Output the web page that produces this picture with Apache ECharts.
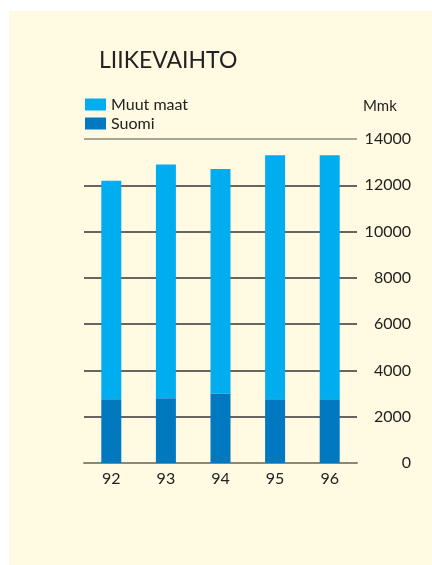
<!DOCTYPE html>
<html>
<head>
<meta charset="utf-8">
<script src="https://cdn.jsdelivr.net/npm/echarts@6/dist/echarts.min.js"></script>
<style>
  html, body { margin: 0; padding: 0; background: #fff; }
  #chart { width: 432px; height: 565px; }
</style>
</head>
<body>
<div id="chart"></div>
<script>
const years = ['92', '93', '94', '95', '96']
const suomi = [2750, 2800, 3000, 2750, 2750]
const muutMaat = [9450, 10100, 9700, 10550, 10550]

const chart = echarts.init(document.getElementById('chart'))

const option = {
  backgroundColor: '#ffffff',
  textStyle: { fontFamily: 'Lato' },
  graphic: [
    {
      type: 'rect',
      z: -10,
      shape: { x: 9, y: 11, width: 423, height: 554 },
      style: { fill: '#fffae1' },
    },
    {
      type: 'text',
      left: 363,
      top: 99,
      style: { text: 'Mmk', fontSize: 15, fill: '#222', fontFamily: 'Lato' },
    },
  ],
  title: {
    text: 'LIIKEVAIHTO',
    left: 94,
    top: 44,
    textStyle: { fontSize: 23, fontWeight: 'normal', color: '#222', fontFamily: 'Lato' },
  },
  legend: {
    data: ['Muut maat', 'Suomi'],
    orient: 'vertical',
    left: 85,
    top: 96,
    icon: 'rect',
    itemWidth: 21,
    itemHeight: 12,
    itemGap: 2,
    padding: 0,
    textStyle: { fontSize: 16, color: '#222', lineHeight: 17 },
  },
  grid: { left: 84, right: 75, top: 139, bottom: 102 },
  xAxis: {
    type: 'category',
    data: years,
    axisTick: { show: false },
    axisLine: { lineStyle: { color: '#8b8878', width: 2 } },
    axisLabel: { fontSize: 16, color: '#222', margin: 8 },
  },
  yAxis: {
    type: 'value',
    position: 'right',
    min: 0,
    max: 14000,
    interval: 2000,
    axisLine: { show: false },
    axisTick: { show: false },
    axisLabel: {
      fontSize: 16,
      color: '#222',
      align: 'right',
      margin: 54,
      formatter: (v) => String(v),
    },
    splitLine: {
      lineStyle: {
        color: ['#8b8878', '#333', '#333', '#333', '#333', '#333', '#333', '#8b8878'],
        width: 1.5,
      },
    },
  },
  series: [
    {
      name: 'Suomi',
      type: 'bar',
      stack: 'total',
      barWidth: 20,
      itemStyle: { color: '#0079c1' },
      data: suomi,
    },
    {
      name: 'Muut maat',
      type: 'bar',
      stack: 'total',
      barWidth: 20,
      itemStyle: { color: '#00adef' },
      data: muutMaat,
    },
  ],
}

chart.setOption(option)
</script>
</body>
</html>
